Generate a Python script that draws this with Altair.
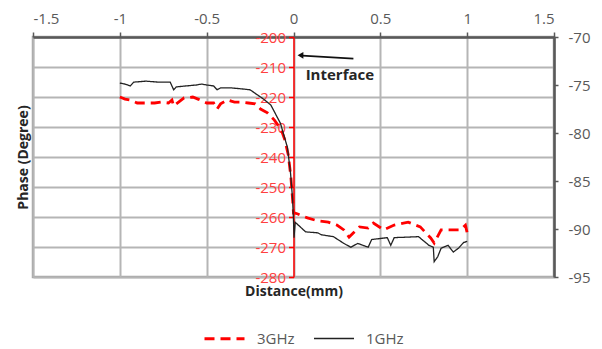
import altair as alt
import pandas as pd

# 3GHz (left axis, degrees)
x_3ghz = [-1.0, -0.97, -0.94, -0.90, -0.84, -0.80, -0.76, -0.72, -0.70, -0.69, -0.63, -0.58, -0.55,
          -0.50, -0.46, -0.44, -0.42, -0.38, -0.34, -0.30, -0.26, -0.22, -0.19, -0.15, -0.11, -0.07,
          -0.05, -0.03, -0.015, -0.005, 0.0, 0.01, 0.025, 0.08, 0.14, 0.20, 0.25, 0.29, 0.32, 0.35,
          0.38, 0.43, 0.46, 0.52, 0.58, 0.66, 0.73, 0.79, 0.81, 0.85, 0.91, 0.96, 0.99, 1.0]
y_3ghz = [-220.0, -220.7, -221.0, -222.0, -222.0, -222.0, -221.7, -222.0, -221.0, -223.0, -220.3, -220.0, -220.7,
          -222.0, -222.0, -224.0, -222.3, -221.0, -221.7, -221.7, -222.0, -222.3, -224.0, -225.3, -227.7, -231.0,
          -234.3, -239.3, -246.7, -254.3, -258.7, -258.7, -259.0, -260.3, -261.3, -261.7, -262.7, -264.3, -266.7, -265.0,
          -263.3, -263.7, -262.0, -264.3, -262.7, -261.7, -263.3, -267.0, -268.7, -264.3, -264.3, -264.3, -262.7, -265.3]

# 1GHz (right axis, degrees)
x_1ghz = [-1.0, -0.97, -0.94, -0.92, -0.85, -0.78, -0.71, -0.69, -0.675, -0.62, -0.56, -0.53, -0.50,
          -0.46, -0.44, -0.42, -0.36, -0.30, -0.25, -0.21, -0.17, -0.13, -0.075, -0.035, -0.017, -0.006,
          0.0, 0.003, 0.01, 0.04, 0.07, 0.14, 0.16, 0.23, 0.29, 0.33, 0.37, 0.40, 0.43, 0.45, 0.54, 0.56,
          0.58, 0.72, 0.78, 0.805, 0.81, 0.83, 0.85, 0.89, 0.92, 0.95, 0.98, 1.0]
y_1ghz = [-74.8, -74.9, -75.1, -74.7, -74.6, -74.7, -74.7, -75.5, -75.2, -75.1, -75.0, -74.9, -75.0,
          -75.1, -75.5, -75.3, -75.3, -75.4, -75.5, -76.0, -76.5, -77.1, -79.0, -81.5, -84.2, -86.7,
          -89.1, -90.9, -89.3, -89.8, -90.3, -90.4, -90.6, -90.8, -91.5, -91.9, -91.5, -91.7, -91.9, -91.1, -90.9, -91.7,
          -90.9, -90.8, -91.7, -91.9, -93.4, -92.9, -92.0, -91.7, -92.4, -92.0, -91.4, -91.3]

series_names = ["3GHz", "1GHz"]
x_ticks = [-1.5, -1.0, -0.5, 0.0, 0.5, 1.0, 1.5]
left_ticks = [-280, -270, -260, -250, -240, -230, -220, -210, -200]
right_ticks = [-95, -90, -85, -80, -75, -70]

ann_text = ["Interface"]
ann_x = [0.07]
ann_y = [-212.6]
arrow_x = [0.345, 0.05]
arrow_y = [-207.2, -206.2]
head_x = [0.04]
head_y = [-206.1]

df = pd.concat([
    pd.DataFrame({"series": "3GHz", "d": x_3ghz, "v": y_3ghz}),
    pd.DataFrame({"series": "1GHz", "d": x_1ghz, "v": y_1ghz}),
], ignore_index=True)

FONT = "Open Sans"
GRAY = "#595959"
xscale = alt.Scale(domain=[-1.5, 1.5], nice=False, zero=False)
lscale = alt.Scale(domain=[-280, -200], nice=False, zero=False)
rscale = alt.Scale(domain=[-95, -70], nice=False, zero=False)

color = alt.Color("series:N", scale=alt.Scale(domain=series_names, range=["#ff0000", "#222222"]),
                  title=None,
                  legend=alt.Legend(orient="none", legendX=170, legendY=280, direction="horizontal",
                                    symbolType="stroke", symbolSize=1600, labelFontSize=15,
                                    labelColor=GRAY, labelFont=FONT, columnPadding=16, labelOffset=11))
dash = alt.StrokeDash("series:N", scale=alt.Scale(domain=series_names, range=[[10, 6], [1, 0]]), title=None)
sw = alt.StrokeWidth("series:N", scale=alt.Scale(domain=series_names, range=[2.8, 1.3]), title=None)

top_axis = alt.Axis(orient="top", values=x_ticks, labelExpr="toString(datum.value)", title=None,
                    grid=True, gridColor="#b5b5b5", gridWidth=2, domainColor=GRAY, domainWidth=2.5,
                    tickColor=GRAY, tickSize=5, tickWidth=1.5, labelColor=GRAY, labelFontSize=15,
                    labelFont=FONT, labelPadding=6)
left_axis = alt.Axis(orient="left", offset=-260.5, values=left_ticks, labelExpr="toString(datum.value)",
                     title="Phase (Degree)", titleX=-270, titleY=120, titleAngle=-90, titleAlign="center",
                     titleBaseline="middle", titleFont=FONT, titleFontSize=14, titleFontWeight="bold",
                     titleColor="#262626",
                     grid=True, gridColor="#b5b5b5", gridWidth=2, domainColor="#ff0000", domainWidth=1.5,
                     tickColor="#ff0000", tickSize=5, tickWidth=1.5, labelColor="#ff4040", labelFontSize=15,
                     labelFont=FONT, labelPadding=3)
bottom_axis = alt.Axis(orient="bottom", labels=False, ticks=False, domain=False, grid=False,
                       title="Distance(mm)", titleFont=FONT, titleFontSize=14, titleFontWeight="bold",
                       titleColor="#262626", titlePadding=7)
right_axis = alt.Axis(orient="right", values=right_ticks, labelExpr="toString(datum.value)", title=None,
                      grid=False, domainColor=GRAY, domainWidth=2.5, tickColor=GRAY, tickSize=4,
                      tickWidth=1.5, labelColor=GRAY, labelFontSize=15, labelFont=FONT, labelPadding=10)

base = alt.Chart(df)

red = base.transform_filter(alt.datum.series == "3GHz").mark_line().encode(
    x=alt.X("d:Q", scale=xscale, axis=top_axis),
    y=alt.Y("v:Q", scale=lscale, axis=left_axis),
    color=color, strokeDash=dash, strokeWidth=sw,
)

black = base.transform_filter(alt.datum.series == "1GHz").mark_line().encode(
    x=alt.X("d:Q", scale=xscale, axis=bottom_axis),
    y=alt.Y("v:Q", scale=rscale, axis=right_axis),
    color=color, strokeDash=dash, strokeWidth=sw,
)

ann = alt.Chart(pd.DataFrame({"t": ann_text, "d": ann_x, "v": ann_y})).mark_text(
    align="left", baseline="middle", font=FONT, fontSize=15, fontWeight="bold", color="#262626"
).encode(x=alt.X("d:Q", scale=xscale, axis=None), y=alt.Y("v:Q", scale=lscale, axis=None), text="t:N")

arrow = alt.Chart(pd.DataFrame({"d": arrow_x, "v": arrow_y})).mark_line(color="#111111", strokeWidth=1.6).encode(
    x=alt.X("d:Q", scale=xscale, axis=None), y=alt.Y("v:Q", scale=lscale, axis=None))

head = alt.Chart(pd.DataFrame({"d": head_x, "v": head_y})).mark_point(
    shape="triangle-left", filled=True, color="#111111", size=45, opacity=1
).encode(x=alt.X("d:Q", scale=xscale, axis=None), y=alt.Y("v:Q", scale=lscale, axis=None))

chart = alt.layer(red, black, ann, arrow, head).resolve_scale(y="independent").resolve_axis(
    x="independent", y="independent").properties(
    width=521, height=240,
    autosize=alt.AutoSizeParams(type="none"),
    padding={"left": 25, "top": 29, "right": 40, "bottom": 72},
).configure_view(stroke="#a6a6a6", strokeWidth=2.5)

chart.save("out.html", embed_options={"renderer": "svg", "actions": False})
